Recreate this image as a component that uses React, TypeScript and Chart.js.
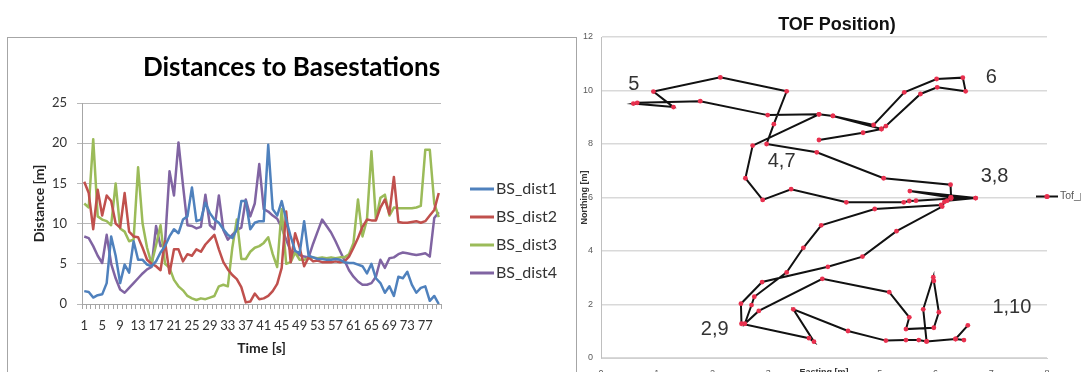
import { useEffect, useRef } from 'react';
import { Chart, registerables } from 'chart.js';

Chart.register(...registerables);

const LATO = 'Lato, "Liberation Sans", sans-serif';
const ARIAL = '"Liberation Sans", Arial, sans-serif';

// ---------- Left chart data ----------
const timeLabels = [
  '1', '2', '3', '4', '5', '6', '7', '8', '9', '10', '11', '12', '13', '14', '15', '16', '17', '18', '19', '20',
  '21', '22', '23', '24', '25', '26', '27', '28', '29', '30', '31', '32', '33', '34', '35', '36', '37', '38', '39', '40',
  '41', '42', '43', '44', '45', '46', '47', '48', '49', '50', '51', '52', '53', '54', '55', '56', '57', '58', '59', '60',
  '61', '62', '63', '64', '65', '66', '67', '68', '69', '70', '71', '72', '73', '74', '75', '76', '77', '78', '79', '80',
];

const bsDist1 = [
  1.6, 1.5, 0.8, 1.1, 1.2, 2.6, 8.4, 6.0, 2.6, 4.9, 3.9, 7.8, 5.5, 5.5, 4.9, 4.7, 5.3, 6.4, 7.2, 8.4,
  9.3, 8.8, 10.5, 10.9, 14.5, 10.3, 10.5, 12.6, 11.3, 10.5, 10.1, 9.3, 8.6, 8.2, 9.3, 12.8, 12.8, 9.3, 10.1, 10.3,
  10.3, 19.8, 11.8, 11.0, 12.8, 10.5, 8.4, 6.6, 6.3, 10.3, 6.0, 5.8, 5.6, 5.6, 5.5, 5.5, 5.6, 5.5, 5.2, 5.1,
  5.1, 4.9, 4.7, 3.8, 5.0, 3.2, 2.6, 1.4, 2.2, 1.0, 3.4, 3.2, 4.0, 2.4, 1.4, 2.0, 2.2, 0.4, 1.0, 0.0,
];
const bsDist2 = [
  15.2, 13.8, 9.3, 14.2, 11.0, 13.5, 12.8, 10.0, 9.5, 13.8, 9.0, 8.4, 8.3, 7.0, 5.5, 5.0, 4.7, 4.2, 7.8, 3.8,
  6.8, 6.8, 5.3, 6.2, 6.0, 6.8, 6.5, 7.4, 8.0, 8.6, 6.8, 5.2, 4.3, 3.6, 3.1, 2.1, 0.2, 0.3, 1.3, 0.6,
  0.7, 1.0, 1.6, 2.5, 4.5, 11.5, 5.2, 8.8, 7.0, 4.7, 5.8, 5.3, 5.4, 5.2, 5.2, 5.2, 5.3, 5.2, 5.3, 5.9,
  7.0, 8.2, 9.6, 10.5, 10.4, 10.4, 12.0, 13.0, 11.2, 15.8, 10.2, 10.1, 10.1, 10.2, 10.3, 10.1, 10.3, 11.0, 11.7, 13.8,
];
const bsDist3 = [
  12.5, 12.0, 20.5, 10.9, 10.5, 10.3, 9.8, 15.0, 9.4, 9.0, 7.8, 8.0, 17.0, 10.0, 7.0, 5.0, 7.3, 9.8, 5.0, 4.5,
  3.0, 2.2, 1.7, 1.0, 0.7, 0.5, 0.7, 0.6, 0.8, 1.0, 2.2, 2.4, 2.2, 7.0, 10.5, 5.6, 5.6, 6.5, 7.0, 7.2,
  7.6, 8.3, 6.2, 4.6, 11.8, 5.0, 5.2, 6.4, 5.5, 5.5, 5.7, 5.8, 5.7, 5.8, 5.7, 5.8, 5.7, 5.8, 5.8, 6.2,
  7.6, 13.0, 8.4, 10.5, 19.0, 10.5, 13.2, 13.6, 11.0, 12.0, 11.9, 11.9, 11.9, 11.9, 12.0, 12.2, 19.2, 19.2, 12.5, 10.8,
];
const bsDist4 = [
  8.4, 8.2, 7.2, 6.0, 5.1, 8.6, 5.0, 3.2, 1.8, 1.4, 2.0, 2.6, 3.2, 3.8, 4.3, 4.6, 9.7, 7.2, 7.6, 16.5,
  13.5, 20.1, 14.8, 9.8, 9.7, 9.4, 9.6, 13.6, 9.8, 9.3, 13.5, 9.2, 8.0, 8.6, 9.2, 9.5, 13.0, 10.9, 12.5, 17.4,
  11.8, 11.5, 11.0, 10.6, 9.5, 8.0, 6.6, 6.3, 6.1, 5.9, 5.8, 7.5, 9.0, 10.5, 9.7, 8.9, 7.8, 6.6, 5.4, 4.2,
  3.4, 2.8, 2.4, 2.4, 2.6, 3.4, 5.5, 4.5, 5.7, 5.8, 6.2, 6.4, 6.3, 6.2, 6.1, 6.2, 6.3, 5.9, 10.7, 11.4,
];
const seriesNames = ['BS_dist1', 'BS_dist2', 'BS_dist3', 'BS_dist4'];
const seriesColors = ['#4F81BD', '#C0504D', '#9BBB59', '#8064A2'];

// ---------- Right chart data ----------
const tofEasting = [
  6.51, 6.36, 5.84, 5.70, 5.47, 5.11, 4.43, 3.45, 3.82, 3.73, 2.52,
  2.51, 2.89, 4.07, 4.69, 5.30, 6.12, 6.16, 6.21, 6.72,
  6.28, 6.27, 5.07, 3.87, 2.97,
  3.10, 3.33, 2.14, 0.94, 1.30, 0.58,
  0.65, 1.78, 2.99, 3.91, 4.16, 4.89, 5.44, 6.02, 6.49,
  6.54, 6.03, 5.73, 5.11, 5.03, 4.16, 3.91, 2.72,
  2.59, 2.90, 3.41, 4.40, 5.43, 5.53, 5.65, 6.28, 6.72,
  5.54, 6.27, 6.10, 4.91, 3.95, 3.63, 3.33, 2.75, 2.70, 2.58,
  2.83, 3.97, 5.17, 5.53, 5.47, 5.97, 6.06, 5.97, 5.96, 5.78, 5.84, 6.36, 6.58,
  null, 3.91, 4.70, 5.03,
];
const tofNorthing = [
  0.67, 0.71, 0.62, 0.67, 0.67, 0.65, 1.01, 1.82, 0.61, 0.74, 1.28,
  2.03, 2.84, 3.41, 3.79, 4.74, 5.66, 5.84, 5.88, 5.98,
  6.00, 6.48, 6.72, 7.69, 8.00,
  8.74, 9.97, 10.49, 9.96, 9.38, 9.51,
  9.54, 9.60, 9.08, 9.11, 9.05, 8.71, 9.93, 10.43, 10.48,
  9.97, 10.12, 9.87, 8.67, 8.56, 9.05, 9.11, 7.94,
  6.72, 5.91, 6.31, 5.82, 5.82, 5.87, 5.88, 5.96, 5.98,
  6.24, 6.00, 5.72, 5.57, 4.96, 4.12, 3.20, 2.29, 1.98, 1.28,
  1.76, 2.96, 2.46, 1.52, 1.08, 1.13, 1.71, 2.88, 3.02, 1.82, 0.62, 0.71, 1.22,
  null, 8.15, 8.42, 8.56,
];
const waypointTexts = ['5', '6', '4,7', '3,8', '1,10', '2,9'];
const waypointEasting = [0.59, 7.0, 3.24, 7.06, 7.37, 2.04];
const waypointNorthing = [10.24, 10.47, 7.33, 6.77, 1.87, 1.05];

const leftLegendPlugin = {
  id: 'leftLegend',
  afterDraw(chart: any) {
    const { ctx, chartArea } = chart;
    ctx.save();
    chart.data.datasets.forEach((ds: any, i: number) => {
      const y = 151 + i * 28;
      const x0 = chartArea.right + 29;
      ctx.strokeStyle = ds.borderColor;
      ctx.lineWidth = 3;
      ctx.beginPath();
      ctx.moveTo(x0, y);
      ctx.lineTo(x0 + 24, y);
      ctx.stroke();
      ctx.fillStyle = '#333';
      ctx.font = `16px ${LATO}`;
      ctx.textBaseline = 'middle';
      ctx.textAlign = 'left';
      ctx.fillText(ds.label, x0 + 26, y);
    });
    ctx.restore();
  },
};

const rightExtrasPlugin = {
  id: 'rightExtras',
  afterDraw(chart: any) {
    const { ctx, chartArea, scales } = chart;
    ctx.save();
    // waypoint annotations
    ctx.fillStyle = '#333';
    ctx.font = `20px ${ARIAL}`;
    ctx.textAlign = 'center';
    ctx.textBaseline = 'middle';
    waypointTexts.forEach((t, i) => {
      ctx.fillText(t, scales.x.getPixelForValue(waypointEasting[i]), scales.y.getPixelForValue(waypointNorthing[i]));
    });
    // legend
    const ds = chart.data.datasets[0];
    const y = (chartArea.top + chartArea.bottom) / 2 - 1;
    const xm = chartArea.right;
    ctx.strokeStyle = ds.borderColor;
    ctx.lineWidth = 2;
    ctx.beginPath();
    ctx.moveTo(xm - 11, y);
    ctx.lineTo(xm + 11, y);
    ctx.stroke();
    ctx.fillStyle = ds.pointBackgroundColor;
    ctx.beginPath();
    ctx.arc(xm, y, 2.6, 0, Math.PI * 2);
    ctx.fill();
    ctx.fillStyle = '#595959';
    ctx.font = `10.5px ${ARIAL}`;
    ctx.textAlign = 'left';
    ctx.fillText(ds.label, xm + 13, y);
    ctx.restore();
  },
};

function LeftChart() {
  const ref = useRef<HTMLCanvasElement>(null);
  useEffect(() => {
    const tickFont = { family: LATO, size: 13 };
    const chart = new Chart(ref.current!, {
      type: 'line',
      data: {
        labels: timeLabels,
        datasets: [bsDist1, bsDist2, bsDist3, bsDist4].map((d, i) => ({
          label: seriesNames[i],
          data: d,
          borderColor: seriesColors[i],
          backgroundColor: seriesColors[i],
          borderWidth: 2.5,
          pointRadius: 0,
          tension: 0,
          fill: false,
          borderJoinStyle: 'round' as const,
        })),
      },
      options: {
        responsive: false,
        animation: false,
        layout: { padding: 0 },
        plugins: {
          legend: { display: false },
          tooltip: { enabled: false },
          title: {
            display: true,
            text: 'Distances to Basestations',
            font: { family: LATO, size: 26, weight: 'bold' },
            color: '#000',
            padding: { top: 14.4, bottom: 19.4 },
          },
        },
        scales: {
          x: {
            type: 'category',
            offset: true,
            grid: { offset: true, drawOnChartArea: false, tickLength: 5, color: '#a6a6a6' },
            border: { color: '#a6a6a6' },
            ticks: {
              autoSkip: false,
              maxRotation: 0,
              minRotation: 0,
              padding: 9,
              font: tickFont,
              color: '#333',
              callback: function (this: any, value: any, index: number) {
                return index % 4 === 0 ? this.getLabelForValue(value) : '';
              },
            },
            title: {
              display: true,
              text: 'Time [s]',
              font: { family: LATO, size: 14, weight: 'bold' },
              color: '#222',
              padding: { top: 0, bottom: 15.6 },
            },
            afterFit: (s: any) => { s.height = 68; },
          },
          y: {
            min: 0,
            max: 25,
            ticks: { stepSize: 5, padding: 10, font: tickFont, color: '#333' },
            grid: { color: '#b8b8b8', tickLength: 5 },
            border: { color: '#a6a6a6' },
            title: {
              display: true,
              text: 'Distance [m]',
              font: { family: LATO, size: 14, weight: 'bold' },
              color: '#222',
              padding: { top: 30.6, bottom: 0 },
            },
            afterFit: (s: any) => { s.width = 82; },
          },
          yRight: {
            type: 'linear',
            position: 'right',
            display: true,
            grid: { display: false },
            ticks: { display: false },
            border: { display: false },
            afterFit: (s: any) => { s.width = 142; },
          },
        },
      } as any,
      plugins: [leftLegendPlugin],
    });
    return () => chart.destroy();
  }, []);
  return <canvas ref={ref} width={583} height={334} style={{ width: 583, height: 334, display: 'block' }} />;
}

function RightChart() {
  const ref = useRef<HTMLCanvasElement>(null);
  useEffect(() => {
    const tickFont = { family: ARIAL, size: 9 };
    const points = tofEasting.map((x, i) => ({ x, y: tofNorthing[i] }));
    const chart = new Chart(ref.current!, {
      type: 'scatter',
      data: {
        datasets: [
          {
            label: 'Tof_position',
            data: points as any,
            showLine: true,
            spanGaps: false,
            borderColor: '#111',
            borderWidth: 2,
            pointRadius: 2.4,
            pointBackgroundColor: '#e8304e',
            pointBorderWidth: 0,
            tension: 0,
          },
        ],
      },
      options: {
        responsive: false,
        animation: false,
        layout: { padding: 0 },
        plugins: {
          legend: { display: false },
          tooltip: { enabled: false },
          title: {
            display: true,
            text: 'TOF Position)',
            font: { family: ARIAL, size: 18, weight: 'bold' },
            color: '#111',
            padding: { top: 14.2, bottom: 1.2 },
          },
        },
        scales: {
          x: {
            type: 'linear',
            min: 0,
            max: 8,
            ticks: {
              stepSize: 1,
              padding: 10,
              font: tickFont,
              color: '#595959',
              callback: (v: any) => (v === 4 ? '' : String(v)),
            },
            grid: { drawOnChartArea: false, drawTicks: false },
            border: { color: '#d0d0d0' },
            title: {
              display: true,
              text: 'Easting [m]',
              font: { family: ARIAL, size: 9, weight: 'bold' },
              color: '#333',
              padding: { top: 0, bottom: 21.6 },
            },
            afterFit: (s: any) => { s.height = 42; },
          },
          y: {
            type: 'linear',
            min: 0,
            max: 12,
            ticks: { stepSize: 2, padding: 8, font: tickFont, color: '#595959' },
            grid: { color: '#d9d9d9', lineWidth: 1.5, drawTicks: false },
            border: { color: '#bfbfbf' },
            title: {
              display: true,
              text: 'Northing [m]',
              font: { family: ARIAL, size: 9, weight: 'bold' },
              color: '#333',
              padding: { top: 3.6, bottom: 0 },
            },
            afterFit: (s: any) => { s.width = 25; },
          },
          yRight: {
            type: 'linear',
            position: 'right',
            display: true,
            grid: { display: false },
            ticks: { display: false },
            border: { display: false },
            afterFit: (s: any) => { s.width = 51; },
          },
        },
      } as any,
      plugins: [rightExtrasPlugin],
    });
    return () => chart.destroy();
  }, []);
  return <canvas ref={ref} width={522} height={400} style={{ width: 522, height: 400, display: 'block' }} />;
}

export default function App() {
  return (
    <div style={{ position: 'absolute', left: 0, top: 0, width: 1081, height: 372, overflow: 'hidden', background: '#fff' }}>
      <div style={{ position: 'absolute', left: 7, top: 37, width: 568, height: 400, border: '1px solid #a6a6a6' }} />
      <div style={{ position: 'absolute', left: 0, top: 38 }}>
        <LeftChart />
      </div>
      <div style={{ position: 'absolute', left: 576, top: 0 }}>
        <RightChart />
      </div>
    </div>
  );
}
